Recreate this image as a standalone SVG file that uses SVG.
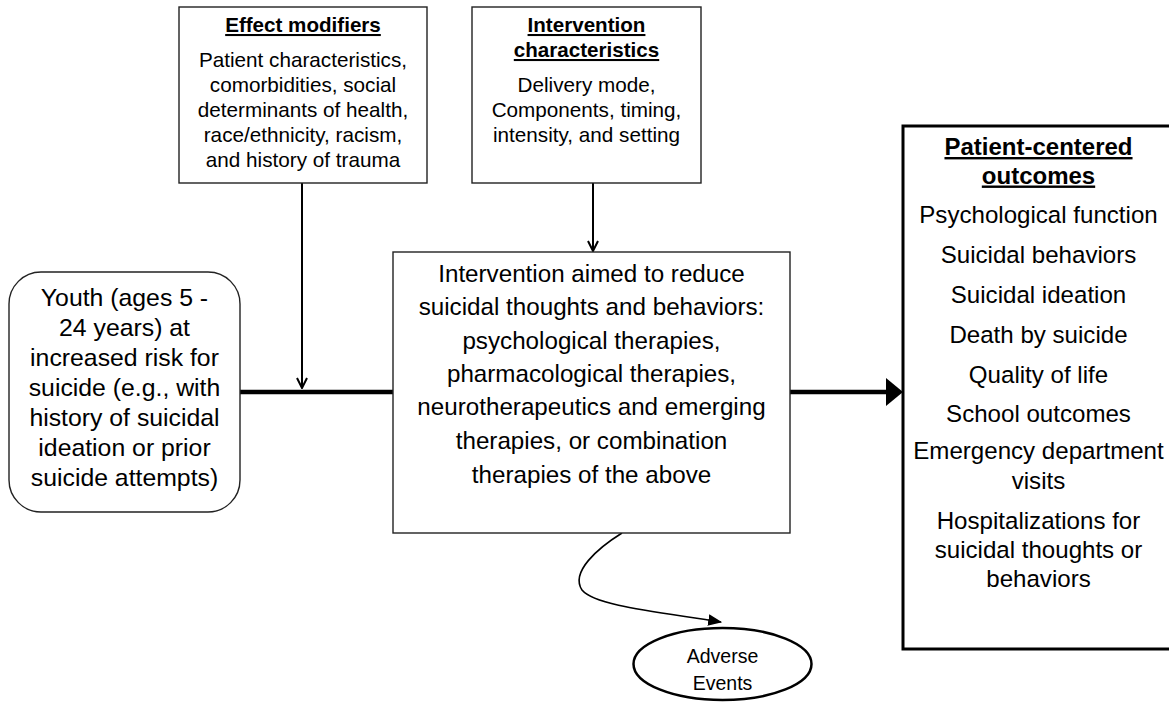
<svg xmlns="http://www.w3.org/2000/svg" width="1169" height="702" viewBox="0 0 1169 702">
<style>
  text { font-family: "Liberation Sans", Arial, sans-serif; fill: #000; text-anchor: middle; }
  .sm { font-size: 20.7px; }
  .smh { font-size: 20.6px; font-weight: bold; text-decoration: underline; }
  .yt { font-size: 24.8px; }
  .mt { font-size: 24.2px; }
  .ot { font-size: 24.1px; }
  .oth { font-size: 24px; font-weight: bold; text-decoration: underline; }
  .at { font-size: 19.5px; }
  .box { fill: #fff; stroke: #222; stroke-width: 1.4; }
  .thin { fill: none; stroke: #000; stroke-width: 2; }
  .thick { fill: none; stroke: #000; stroke-width: 4.5; }
</style>
<defs>
  <marker id="open" viewBox="0 0 12 12" refX="11" refY="6" markerWidth="12" markerHeight="12" markerUnits="userSpaceOnUse" orient="auto">
    <path d="M1,1 L11,6 L1,11" fill="none" stroke="#000" stroke-width="2"/>
  </marker>
  <marker id="solid" viewBox="0 0 12 10" refX="11" refY="5" markerWidth="14" markerHeight="12" markerUnits="userSpaceOnUse" orient="auto">
    <path d="M0,0 L12,5 L0,10 Z" fill="#000"/>
  </marker>
</defs>
<rect width="1169" height="702" fill="#fff"/>

<g id="connectors">
  <line class="thick" x1="240" y1="392" x2="394" y2="392"/>
  <line class="thick" x1="790" y1="392" x2="888" y2="392"/>
  <polygon points="886,378 903,392 886,406" fill="#000"/>
  <line class="thin" x1="302" y1="183" x2="302" y2="388" marker-end="url(#open)"/>
  <line class="thin" x1="593" y1="183" x2="593" y2="251" marker-end="url(#open)"/>
  <path d="M622,533 C598,548 570,572 582,590 C595,606 660,612 721,622" fill="none" stroke="#000" stroke-width="1.6" marker-end="url(#solid)"/>
</g>

<g id="effect-modifiers">
  <rect class="box" x="179" y="7" width="248" height="176"/>
  <text class="smh" x="303" y="32">Effect modifiers</text>
  <text class="sm" x="303" y="67">Patient characteristics,</text>
  <text class="sm" x="303" y="92">comorbidities, social</text>
  <text class="sm" x="303" y="117">determinants of health,</text>
  <text class="sm" x="303" y="142">race/ethnicity, racism,</text>
  <text class="sm" x="303" y="167">and history of trauma</text>
</g>

<g id="intervention-characteristics">
  <rect class="box" x="472" y="7" width="229" height="176"/>
  <text class="smh" x="586.5" y="32">Intervention</text>
  <text class="smh" x="586.5" y="57">characteristics</text>
  <text class="sm" x="586.5" y="92">Delivery mode,</text>
  <text class="sm" x="586.5" y="117">Components, timing,</text>
  <text class="sm" x="586.5" y="142">intensity, and setting</text>
</g>

<g id="youth">
  <rect class="box" x="9" y="272" width="231" height="240" rx="32" ry="32"/>
  <text class="yt" x="124.5" y="306">Youth (ages 5 -</text>
  <text class="yt" x="124.5" y="336">24 years) at</text>
  <text class="yt" x="124.5" y="366">increased risk for</text>
  <text class="yt" x="124.5" y="396">suicide (e.g., with</text>
  <text class="yt" x="124.5" y="426">history of suicidal</text>
  <text class="yt" x="124.5" y="456">ideation or prior</text>
  <text class="yt" x="124.5" y="486">suicide attempts)</text>
</g>

<g id="intervention">
  <rect class="box" x="393" y="252" width="397" height="281"/>
  <text class="mt" x="591.5" y="282">Intervention aimed to reduce</text>
  <text class="mt" x="591.5" y="315">suicidal thoughts and behaviors:</text>
  <text class="mt" x="591.5" y="348.5">psychological therapies,</text>
  <text class="mt" x="591.5" y="382">pharmacological therapies,</text>
  <text class="mt" x="591.5" y="415">neurotherapeutics and emerging</text>
  <text class="mt" x="591.5" y="449">therapies, or combination</text>
  <text class="mt" x="591.5" y="482.5">therapies of the above</text>
</g>

<g id="outcomes">
  <rect x="903" y="126" width="280" height="523" fill="#fff" stroke="#000" stroke-width="3"/>
  <text class="oth" x="1038.5" y="155">Patient-centered</text>
  <text class="oth" x="1038.5" y="183.5">outcomes</text>
  <text class="ot" x="1038.5" y="223">Psychological function</text>
  <text class="ot" x="1038.5" y="263">Suicidal behaviors</text>
  <text class="ot" x="1038.5" y="303">Suicidal ideation</text>
  <text class="ot" x="1038.5" y="343">Death by suicide</text>
  <text class="ot" x="1038.5" y="383">Quality of life</text>
  <text class="ot" x="1038.5" y="422">School outcomes</text>
  <text class="ot" x="1038.5" y="459">Emergency department</text>
  <text class="ot" x="1038.5" y="488.5">visits</text>
  <text class="ot" x="1038.5" y="528.5">Hospitalizations for</text>
  <text class="ot" x="1038.5" y="558">suicidal thoughts or</text>
  <text class="ot" x="1038.5" y="587">behaviors</text>
</g>

<g id="adverse-events">
  <ellipse cx="722.5" cy="664" rx="89" ry="36" fill="#fff" stroke="#000" stroke-width="2.5"/>
  <text class="at" x="722.5" y="663">Adverse</text>
  <text class="at" x="722.5" y="690">Events</text>
</g>
</svg>
